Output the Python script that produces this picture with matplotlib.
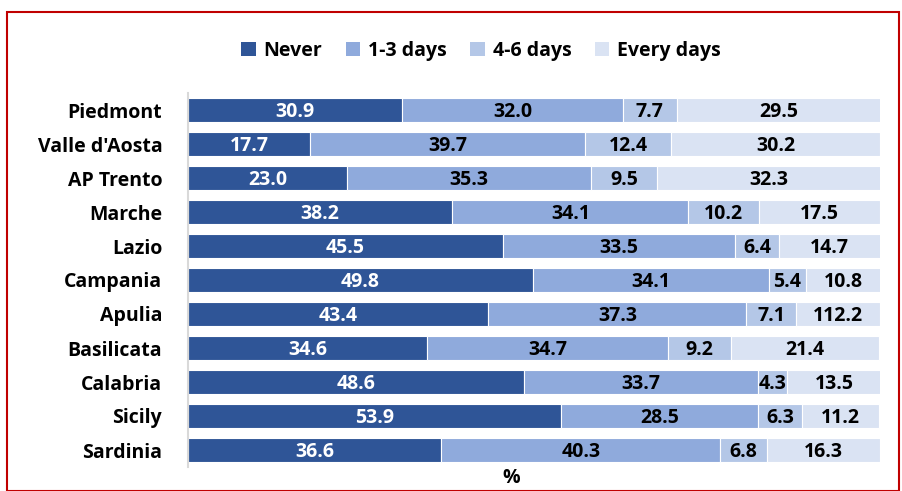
import matplotlib
matplotlib.use("Agg")
import matplotlib.pyplot as plt
from matplotlib.patches import Patch, Rectangle
import numpy as np

regions = ["Piedmont", "Valle d'Aosta", "AP Trento", "Marche", "Lazio", "Campania",
           "Apulia", "Basilicata", "Calabria", "Sicily", "Sardinia"]
series_names = ["Never", "1-3 days", "4-6 days", "Every days"]
never = [30.9, 17.7, 23.0, 38.2, 45.5, 49.8, 43.4, 34.6, 48.6, 53.9, 36.6]
days_1_3 = [32.0, 39.7, 35.3, 34.1, 33.5, 34.1, 37.3, 34.7, 33.7, 28.5, 40.3]
days_4_6 = [7.7, 12.4, 9.5, 10.2, 6.4, 5.4, 7.1, 9.2, 4.3, 6.3, 6.8]
every_day = [29.5, 30.2, 32.3, 17.5, 14.7, 10.8, 12.2, 21.4, 13.5, 11.2, 16.3]
# printed label text for the Apulia "Every days" segment as it appears in the source table
label_overrides = {(3, "Apulia"): "112.2"}

colors = ["#2F5597", "#8FAADC", "#B4C7E7", "#DAE3F3"]
text_colors = ["white", "black", "black", "black"]

plt.rcParams["font.family"] = ["Open Sans", "DejaVu Sans"]
plt.rcParams["font.weight"] = "bold"
FS = 14

fig = plt.figure(figsize=(9.02, 4.91), dpi=100)
ax = fig.add_axes([188 / 902, 1 - 467 / 491, (880 - 188) / 902, (467 - 93) / 491])

y = np.arange(len(regions))
left = np.zeros(len(regions))
all_series = [never, days_1_3, days_4_6, every_day]
for k, vals in enumerate(all_series):
    vals = np.array(vals)
    bars = ax.barh(y, vals, left=left, height=0.68, color=colors[k],
                   edgecolor="white", linewidth=0.8)
    for i, b in enumerate(bars):
        txt = label_overrides.get((k, regions[i]), f"{vals[i]:.1f}")
        ax.text(left[i] + vals[i] / 2, y[i] + 0.05, txt, ha="center", va="center",
                color=text_colors[k], fontsize=FS, fontweight="bold")
    left += vals

ax.set_xlim(0, 100)
ax.set_ylim(len(regions) - 0.5, -0.5)
ax.set_yticks(y)
ax.set_yticklabels(regions, fontsize=FS, fontweight="bold")
ax.tick_params(axis="y", length=0, pad=18.5)
ax.set_xticks([])
for s in ["top", "right", "bottom"]:
    ax.spines[s].set_visible(False)
ax.spines["left"].set_color("#D9D9D9")
ax.spines["left"].set_linewidth(1.5)

fig.text(511 / 902, 1 - 478 / 491, "%", ha="center", va="center",
         fontsize=FS, fontweight="bold")

handles = [Patch(facecolor=c, edgecolor="none") for c in colors]
fig.legend(handles, series_names, loc="center", bbox_to_anchor=(481 / 902, 1 - 51 / 491),
           ncol=4, frameon=False, handlelength=0.75, handleheight=0.75,
           handletextpad=0.4, columnspacing=1.2, prop={"weight": "bold", "size": FS})

# chart border
fig.patches.append(Rectangle((7 / 902, 0), (899 - 7) / 902, 1 - 12 / 491,
                             transform=fig.transFigure, fill=False,
                             edgecolor="#C00000", linewidth=1.5))

fig.savefig("out.png", dpi=100)
